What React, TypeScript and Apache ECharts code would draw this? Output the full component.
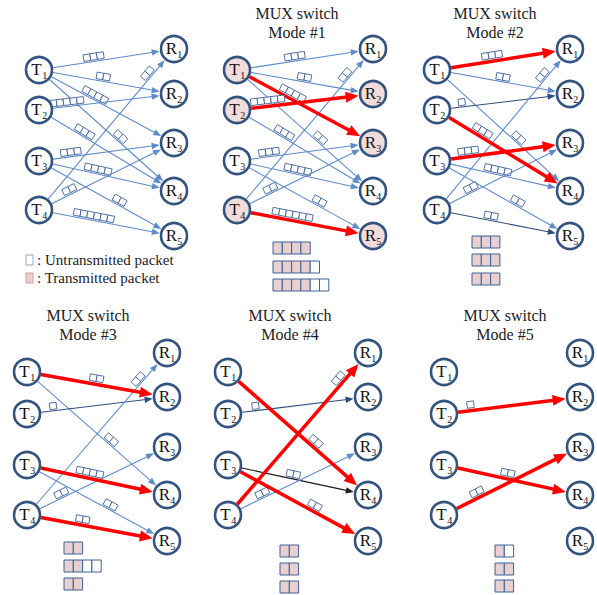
import React, { useEffect, useRef } from "react";
import * as echarts from "echarts";

const W = 597;
const H = 595;

// ---- layout of the six panels (node columns / rows) ----
const panelTX = [39, 237, 437, 27, 228, 444];
const panelRX = [174, 373, 570, 167, 368, 580];
const rowTY = [
  [70, 110, 161, 210],
  [372, 414, 465, 515],
];
const rowRY = [
  [49, 94, 143, 191, 236],
  [353, 397, 447, 495, 541],
];

// ---- links per panel: [T index, R index, packets, kind] kind: 0 thin, 1 red (transmitting), 2 dark thin, 3 black thin ----
const linksP0 = [[1,1,3,0],[1,2,2,0],[1,3,4,0],[1,4,2,0],[2,2,5,0],[2,4,3,0],[3,3,3,0],[3,4,4,0],[3,5,2,0],[4,1,2,0],[4,3,2,0],[4,5,6,0]];
const linksP1 = [[1,1,3,0],[1,2,2,0],[1,3,4,1],[1,4,2,0],[2,2,5,1],[2,4,3,0],[3,3,3,0],[3,4,4,0],[3,5,2,0],[4,1,2,0],[4,3,2,0],[4,5,6,1]];
const linksP2 = [[1,1,3,1],[1,2,2,0],[1,4,2,0],[2,2,1,2],[2,4,3,1],[3,3,3,1],[3,4,4,0],[3,5,2,0],[4,1,2,0],[4,3,2,0],[4,5,2,2]];
const linksP3 = [[1,2,2,1],[1,4,2,0],[2,2,1,2],[3,4,4,1],[3,5,2,0],[4,1,2,0],[4,3,2,0],[4,5,2,1]];
const linksP4 = [[1,4,2,1],[2,2,1,2],[3,4,2,3],[3,5,2,1],[4,1,2,1],[4,3,2,0]];
const linksP5 = [[2,2,1,1],[3,4,2,1],[4,3,2,1]];
const panelLinks = [linksP0, linksP1, linksP2, linksP3, linksP4, linksP5];

// position (fraction along the link) of each packet group
const fracP0 = [0.41,0.47,0.40,0.58,0.21,0.32,0.24,0.43,0.58,0.83,0.24,0.40];
const fracP1 = [0.43,0.49,0.39,0.59,0.23,0.33,0.24,0.44,0.59,0.82,0.26,0.40];
const fracP2 = [0.42,0.49,0.59,0.19,0.32,0.24,0.45,0.59,0.82,0.27,0.40];
const fracP3 = [0.49,0.58,0.19,0.44,0.58,0.82,0.26,0.39];
const fracP4 = [0.60,0.20,0.46,0.60,0.82,0.26];
const fracP5 = [0.20,0.46,0.26];
const panelFrac = [fracP0, fracP1, fracP2, fracP3, fracP4, fracP5];

// nodes shaded as active (pink) per panel
const filledT = [[], [1, 2, 4], [], [], [], []];
const filledR = [[], [2, 3, 5], [], [], [], []];

// transmitted queues per panel: filled / empty cells per row
const queueFilled = [[], [4, 4, 4], [3, 3, 3], [2, 2, 2], [2, 2, 2], [1, 2, 2]];
const queueEmpty = [[], [0, 1, 2], [0, 0, 0], [0, 2, 0], [0, 0, 0], [1, 0, 0]];
const queueX = [0, 273, 472, 64, 280, 495];
const queueY = [[], [242, 261, 279], [236, 254, 273], [542, 560, 578], [545, 563, 581], [545, 563, 580]];

// titles
const titleTop = ["", "MUX switch", "MUX switch", "MUX switch", "MUX switch", "MUX switch"];
const titleBottom = ["", "Mode #1", "Mode #2", "Mode #3", "Mode #4", "Mode #5"];
const titleX = [0, 297, 495, 88, 290, 505];
const titleRowY = [[13, 32], [315, 334]];

const legendLabels = [": Untransmitted packet", ": Transmitted packet"];

const FAMILY = "Liberation Serif, Times New Roman, serif";
const LINE_BLUE = "#5F8BC8";
const kindColor = [LINE_BLUE, "#FF0000", "#2F4E7E", "#1A1A1A"];
const NODE_STROKE = "#34547F";
const PINK = "#F2DCDB";
const CELL_PINK = "#E8CFD0";
const CELL_STROKE = "#3E6196";

function rowOf(p: number) {
  return p < 3 ? 0 : 1;
}

function App() {
  const ref = useRef<HTMLDivElement>(null);
  useEffect(() => {
    document.body.style.margin = "0";
    const chart = echarts.init(ref.current!, undefined, { renderer: "svg" });

    // edges data: thin first, red last
    const edgeData: number[][] = [];
    for (const pass of [0, 1]) {
      panelLinks.forEach((links, p) => {
        links.forEach((l, i) => {
          const isRed = l[3] === 1 ? 1 : 0;
          if (isRed === pass) edgeData.push([p, l[0], l[1], l[2], l[3], panelFrac[p][i]]);
        });
      });
    }

    const nodeData: number[][] = [];
    for (let p = 0; p < 6; p++) {
      for (let t = 1; t <= 4; t++) nodeData.push([p, 0, t, filledT[p].includes(t) ? 1 : 0]);
      for (let r = 1; r <= 5; r++) nodeData.push([p, 1, r, filledR[p].includes(r) ? 1 : 0]);
    }

    const queueData: number[][] = [];
    for (let p = 0; p < 6; p++) {
      queueFilled[p].forEach((f, k) => queueData.push([p, k, f, queueEmpty[p][k]]));
    }

    const renderEdge = (params: any, api: any) => {
      const p = api.value(0), t = api.value(1), r = api.value(2), n = api.value(3), kind = api.value(4), frac = api.value(5);
      const row = rowOf(p);
      const a = api.coord([panelTX[p], rowTY[row][t - 1]]);
      const b = api.coord([panelRX[p], rowRY[row][r - 1]]);
      const dx = b[0] - a[0], dy = b[1] - a[1];
      const L = Math.hypot(dx, dy);
      const ux = dx / L, uy = dy / L;
      const nx = uy, ny = -ux;
      const red = kind === 1;
      const lw = red ? 3.5 : 1.1;
      const ah = red ? 13 : 8;
      const aw = red ? 5.5 : 3.2;
      const R0 = 14.2;
      const sx = a[0] + ux * R0, sy = a[1] + uy * R0;
      const tipx = b[0] - ux * (R0 + 0.3), tipy = b[1] - uy * (R0 + 0.3);
      const bx = tipx - ux * ah, by = tipy - uy * ah;
      const color = kindColor[kind];
      const children: any[] = [
        { type: "line", shape: { x1: sx, y1: sy, x2: bx + ux * 1.5, y2: by + uy * 1.5 }, style: { stroke: color, lineWidth: lw } },
        { type: "polygon", shape: { points: [[tipx, tipy], [bx + nx * aw, by + ny * aw], [bx - nx * aw, by - ny * aw]] }, style: { fill: color } },
      ];
      const cw = 6.8, ch = 6.6;
      const cx = a[0] + dx * frac, cy = a[1] + dy * frac;
      const off = lw / 2 + 1 + ch / 2;
      const gx = cx + nx * off, gy = cy + ny * off;
      for (let i = 0; i < n; i++) {
        const s = (i - (n - 1) / 2) * cw;
        const px = gx + ux * s, py = gy + uy * s;
        const hx = ux * cw / 2, hy = uy * cw / 2, vx = nx * ch / 2, vy = ny * ch / 2;
        children.push({
          type: "polygon",
          shape: { points: [[px - hx - vx, py - hy - vy], [px + hx - vx, py + hy - vy], [px + hx + vx, py + hy + vy], [px - hx + vx, py - hy + vy]] },
          style: { fill: "#ffffff", stroke: CELL_STROKE, lineWidth: 0.9 },
        });
      }
      return { type: "group", children };
    };

    const renderNode = (params: any, api: any) => {
      const p = api.value(0), side = api.value(1), idx = api.value(2), filled = api.value(3);
      const row = rowOf(p);
      const pos = side === 0 ? api.coord([panelTX[p], rowTY[row][idx - 1]]) : api.coord([panelRX[p], rowRY[row][idx - 1]]);
      return {
        type: "group",
        children: [
          { type: "circle", shape: { cx: pos[0], cy: pos[1], r: 13 }, style: { fill: filled ? PINK : "#ffffff", stroke: NODE_STROKE, lineWidth: 2.6 } },
          { type: "text", style: { text: side === 0 ? "T" : "R", x: pos[0] - 2.5, y: pos[1] - 0.5, fill: "#111", font: "17px " + FAMILY, align: "center", verticalAlign: "middle" } },
          { type: "text", style: { text: String(idx), x: pos[0] + 3.2, y: pos[1] + 5, fill: "#111", font: "10px " + FAMILY, align: "left", verticalAlign: "middle" } },
        ],
      };
    };

    const renderQueue = (params: any, api: any) => {
      const p = api.value(0), k = api.value(1), f = api.value(2), e = api.value(3);
      const cw = 9.3, chh = 12;
      const children: any[] = [];
      for (let i = 0; i < f + e; i++) {
        const pt = api.coord([queueX[p] + i * cw, queueY[p][k]]);
        children.push({
          type: "rect",
          shape: { x: pt[0], y: pt[1], width: cw, height: chh },
          style: { fill: i < f ? CELL_PINK : "#ffffff", stroke: CELL_STROKE, lineWidth: 1 },
        });
      }
      return { type: "group", children };
    };

    const graphics: any[] = [];
    for (let p = 1; p < 6; p++) {
      const ty = titleRowY[rowOf(p)];
      graphics.push({ type: "text", x: titleX[p], y: ty[0], style: { text: titleTop[p], fill: "#222", font: "16px " + FAMILY, align: "center", verticalAlign: "middle" } });
      graphics.push({ type: "text", x: titleX[p], y: ty[1], style: { text: titleBottom[p], fill: "#222", font: "16px " + FAMILY, align: "center", verticalAlign: "middle" } });
    }
    const legendY = [260, 278];
    legendLabels.forEach((lab, i) => {
      graphics.push({ type: "rect", shape: { x: 26, y: legendY[i] - 5, width: 7, height: 10 }, style: { fill: i === 0 ? "#ffffff" : "#EACFCF", stroke: i === 0 ? "#8FA8CF" : "#C9A3A5", lineWidth: 1 } });
      graphics.push({ type: "text", x: 37, y: legendY[i], style: { text: lab, fill: "#222", font: "15px " + FAMILY, align: "left", verticalAlign: "middle" } });
    });

    chart.setOption({
      animation: false,
      backgroundColor: "#ffffff",
      grid: { left: 0, right: 0, top: 0, bottom: 0 },
      xAxis: { type: "value", min: 0, max: W, show: false },
      yAxis: { type: "value", min: 0, max: H, inverse: true, show: false },
      series: [
        { type: "custom", name: "links", coordinateSystem: "cartesian2d", renderItem: renderEdge, data: edgeData, clip: false, z: 2, silent: true },
        { type: "custom", name: "nodes", coordinateSystem: "cartesian2d", renderItem: renderNode, data: nodeData, clip: false, z: 3, silent: true },
        { type: "custom", name: "queues", coordinateSystem: "cartesian2d", renderItem: renderQueue, data: queueData, clip: false, z: 3, silent: true },
      ],
      graphic: graphics,
    });
    return () => chart.dispose();
  }, []);
  return <div ref={ref} style={{ width: W, height: H }} />;
}

export default App;
